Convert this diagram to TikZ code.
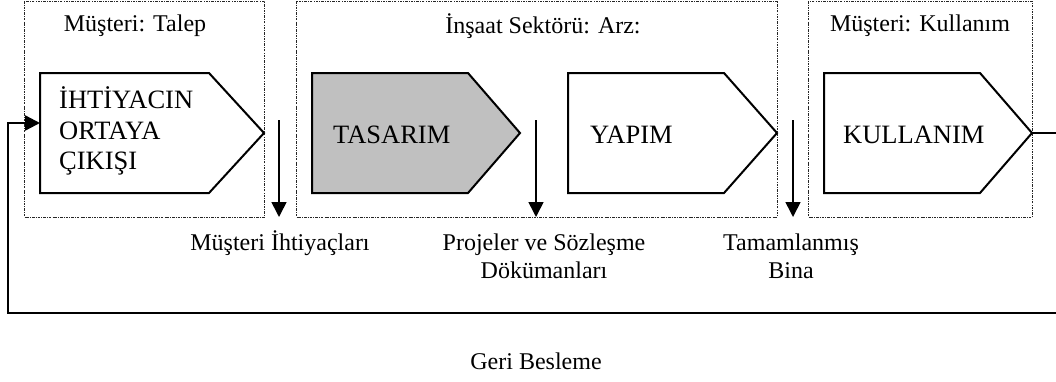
\documentclass[tikz,border=0pt]{standalone}
\usepackage{fontspec}
\setmainfont{Liberation Serif}
\usetikzlibrary{arrows.meta}
\definecolor{stagegray}{HTML}{C0C0C0}
\tikzset{
  zone/.style={draw=black!85,line width=0.8pt,dash pattern=on 2.5pt off 1.2pt on 0.7pt off 1.2pt},
  stage/.style={draw,line width=2pt,line join=miter},
  stagetext/.style={anchor=west,align=left,inner sep=0pt,font=\fontsize{26.5}{30.5}\selectfont},
  flow/.style={->,line width=1.6pt},
  feedback/.style={->,line width=2.4pt,line join=miter}
}
\begin{document}
\begin{tikzpicture}[x=1pt,y=-1pt,font=\fontsize{24}{28}\selectfont,line cap=butt,>={Triangle[length=15pt,width=15pt]}]
	\useasboundingbox (0,0) rectangle (1056,381);
	% zones
	\draw[zone] (24,1) rectangle (264,217);
	\draw[zone] (296,1) rectangle (777,217);
	\draw[zone] (808,1) rectangle (1032,217);
	\node (talep) at (135,26) {Müşteri: Talep};
	\node (arz) at (543,26) {İnşaat Sektörü: Arz:};
	\node (kullanimZone) at (920,26) {Müşteri: Kullanım};
	% stages
	\draw[stage] (40,73) -- (209,73) -- (264,133) -- (209,193) -- (40,193) -- cycle;
	\draw[stage,fill=stagegray] (312,73) -- (468,73) -- (520,133) -- (468,193) -- (312,193) -- cycle;
	\draw[stage] (568,73) -- (724,73) -- (777,133) -- (724,193) -- (568,193) -- cycle;
	\draw[stage] (824,73) -- (980,73) -- (1032,133) -- (980,193) -- (824,193) -- cycle;
	\coordinate (ihtiyacIn) at (40,123);
	\coordinate (kullanimTip) at (1032,133);
	\node[stagetext] (ihtiyac) at (59,131) {İHTİYACIN\\ORTAYA\\ÇIKIŞI};
	\node[stagetext] (tasarim) at (333,135) {TASARIM};
	\node[stagetext] (yapim) at (590,135) {YAPIM};
	\node[stagetext] (kullanim) at (843,135) {KULLANIM};
	% outputs
	\coordinate (d1) at (279,120);
	\coordinate (d2) at (536,120);
	\coordinate (d3) at (793,120);
	\coordinate (e1) at (279,217);
	\coordinate (e2) at (536,217);
	\coordinate (e3) at (793,217);
	\draw[flow] (d1) -- (e1);
	\draw[flow] (d2) -- (e2);
	\draw[flow] (d3) -- (e3);
	\node (ihtiyaclar) at (280,243) {Müşteri İhtiyaçları};
	\node[align=center] (projeler) at (544,256) {Projeler ve Sözleşme\\Dökümanları};
	\node[align=center] (bina) at (791,256) {Tamamlanmış\\Bina};
	% feedback
	\coordinate (fbR) at (1064,133);
	\coordinate (fbL) at (8,313);
	\draw[feedback] (kullanimTip) -- (fbR) |- (fbL) |- (ihtiyacIn);
	\node (geri) at (536,361) {Geri Besleme};
\end{tikzpicture}
\end{document}
